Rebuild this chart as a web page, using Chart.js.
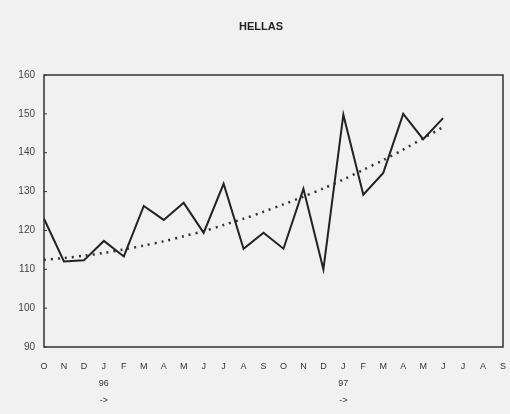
<!DOCTYPE html>
<html>
<head>
<meta charset="utf-8">
<script src="https://cdn.jsdelivr.net/npm/chart.js@4/dist/chart.umd.min.js"></script>
<style>
  html, body { margin: 0; padding: 0; background: #f1f1f1; }
  .chart-box { width: 510px; height: 414px; }
</style>
</head>
<body>
<div class="chart-box"><canvas id="myChart"></canvas></div>
<script>
// months Oct 95 -> Sep 97
const months = ["O", "N", "D", ["J", "96", "->"], "F", "M", "A", "M", "J", "J", "A", "S",
  "O", "N", "D", ["J", "97", "->"], "F", "M", "A", "M", "J", "J", "A", "S"]

const values = [123, 112, 112.3, 117.3, 113.3, 126.3, 122.7, 127.1, 119.4, 132, 115.3, 119.4,
  115.3, 130.7, 110, 149.8, 129.2, 134.8, 150, 143.5, 148.9, null, null, null]

// trend (dotted)
const trend = [112.4, 112.9, 113.5, 114.2, 115.1, 116.1, 117.2, 118.5, 119.8, 121.4, 123, 124.8,
  126.7, 128.7, 130.8, 133.1, 135.6, 138.1, 140.8, 143.7, 146.6, null, null, null]

const yTicks = [90, 100, 110, 120, 130, 140, 150, 160]
const title = "HELLAS"

// background, title, frame round the plot + small inside ticks
const frame = {
  id: "frame",
  beforeDraw(chart) {
    const c = chart.ctx
    c.save()
    c.fillStyle = "#f1f1f1"
    c.fillRect(0, 0, chart.width, chart.height)
    c.fillStyle = "#222"
    c.font = "bold 11px 'Liberation Sans'"
    c.textAlign = "center"
    c.textBaseline = "middle"
    c.fillText(title, 261, 27)
    c.restore()
  },
  afterDatasetsDraw(chart) {
    const a = chart.chartArea
    const c = chart.ctx
    const y = chart.scales.y
    c.save()
    c.strokeStyle = "#333"
    c.lineWidth = 1.5
    c.strokeRect(a.left, a.top, a.right - a.left, a.bottom - a.top)
    c.lineWidth = 1
    yTicks.forEach((t) => {
      const py = y.getPixelForValue(t)
      c.beginPath()
      c.moveTo(a.left, py)
      c.lineTo(a.left + 3, py)
      c.stroke()
    })
    c.restore()
  },
}

const ctx = document.getElementById("myChart").getContext("2d")
const myChart = new Chart(ctx, {
  type: "line",
  data: {
    labels: months,
    datasets: [
      {
        data: values,
        borderColor: "#222",
        borderWidth: 2,
        pointRadius: 0,
        tension: 0,
      },
      {
        data: trend,
        borderColor: "#333",
        borderWidth: 2.5,
        borderDash: [2, 5],
        pointRadius: 0,
        tension: 0.3,
      },
    ],
  },
  options: {
    responsive: true,
    maintainAspectRatio: false,
    animation: false,
    layout: { padding: { left: 0, right: 7, top: 75, bottom: 0 } },
    plugins: {
      legend: { display: false },
      tooltip: { enabled: false },
      title: { display: false },
    },
    scales: {
      x: {
        offset: false,
        grid: { display: false, drawTicks: false },
        border: { display: false },
        ticks: {
          autoSkip: false,
          maxRotation: 0,
          padding: 11,
          color: "#333",
          font: { family: "Liberation Sans", size: 9, lineHeight: 1.9 },
        },
        afterFit: (s) => {
          s.height = 67
          s.paddingRight = 0
        },
      },
      y: {
        min: 90,
        max: 160,
        afterBuildTicks: (s) => { s.ticks = yTicks.map((v) => ({ value: v })) },
        grid: { display: false, drawTicks: false },
        border: { display: false },
        ticks: {
          padding: 9,
          color: "#444",
          font: { family: "Liberation Sans", size: 10 },
        },
        afterFit: (s) => { s.width = 44 },
      },
    },
  },
  plugins: [frame],
})
</script>
</body>
</html>
